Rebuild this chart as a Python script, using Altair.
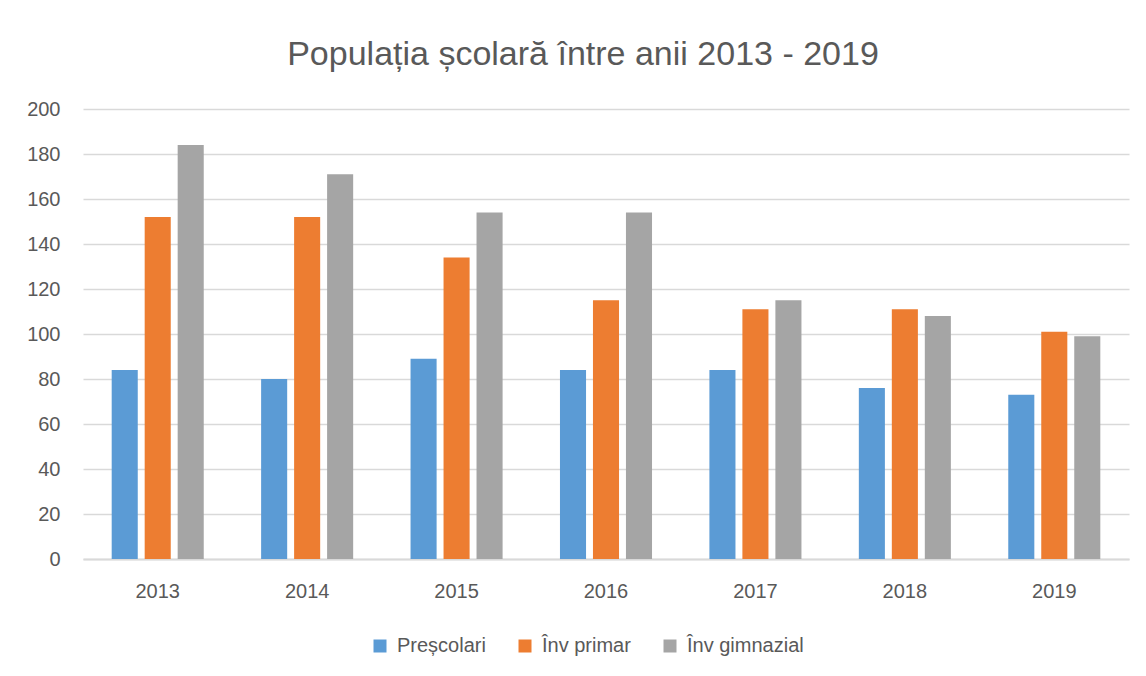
import altair as alt
import pandas as pd

years = ["2013", "2014", "2015", "2016", "2017", "2018", "2019"]
series = ["Preșcolari", "Înv primar", "Înv gimnazial"]
prescolari = [84, 80, 89, 84, 84, 76, 73]
primar = [152, 152, 134, 115, 111, 111, 101]
gimnazial = [184, 171, 154, 154, 115, 108, 99]
colors = ["#5B9BD5", "#ED7D31", "#A5A5A5"]

rows = []
for name, vals in zip(series, [prescolari, primar, gimnazial]):
    for y, v in zip(years, vals):
        rows.append({"An": y, "Serie": name, "Valoare": v})
df = pd.DataFrame(rows)

FONT = "Liberation Sans"
TXT = "#595959"

chart = alt.Chart(df).mark_bar().encode(
    x=alt.X("An:N", sort=years,
            scale=alt.Scale(paddingInner=0.384, paddingOuter=0.192),
            axis=alt.Axis(title=None, labelAngle=0, ticks=False, grid=False,
                          domain=True, domainColor="#D9D9D9", domainWidth=2,
                          labelPadding=22, labelFontSize=20, labelColor=TXT,
                          labelFont=FONT)),
    xOffset=alt.XOffset("Serie:N", sort=series,
                        scale=alt.Scale(paddingInner=0.21, paddingOuter=0)),
    y=alt.Y("Valoare:Q",
            scale=alt.Scale(domain=[0, 200]),
            axis=alt.Axis(title=None, values=list(range(0, 201, 20)),
                          domain=False, ticks=False, gridColor="#D9D9D9",
                          gridWidth=1.5, labelPadding=23, labelFontSize=20,
                          labelColor=TXT, labelFont=FONT)),
    color=alt.Color("Serie:N", sort=series,
                    scale=alt.Scale(domain=series, range=colors),
                    legend=alt.Legend(title=None, orient="none",
                                      direction="horizontal",
                                      legendX=287, legendY=527,
                                      symbolType="square", symbolSize=169,
                                      symbolStrokeWidth=0, labelFontSize=20,
                                      labelColor=TXT, labelFont=FONT,
                                      labelOffset=7, columnPadding=29,
                                      padding=0)),
).properties(
    width=1046,
    height=450,
    title=alt.TitleParams("Populația școlară între anii 2013 - 2019",
                          fontSize=34, font=FONT, color=TXT,
                          fontWeight="normal", anchor="middle",
                          frame="group", dx=-23, offset=27),
    autosize=alt.AutoSizeParams(type="none"),
    padding={"left": 75, "top": 101, "right": 9, "bottom": 109},
).configure_view(stroke=None)

chart.save("out.html", embed_options={"renderer": "svg", "actions": False})
